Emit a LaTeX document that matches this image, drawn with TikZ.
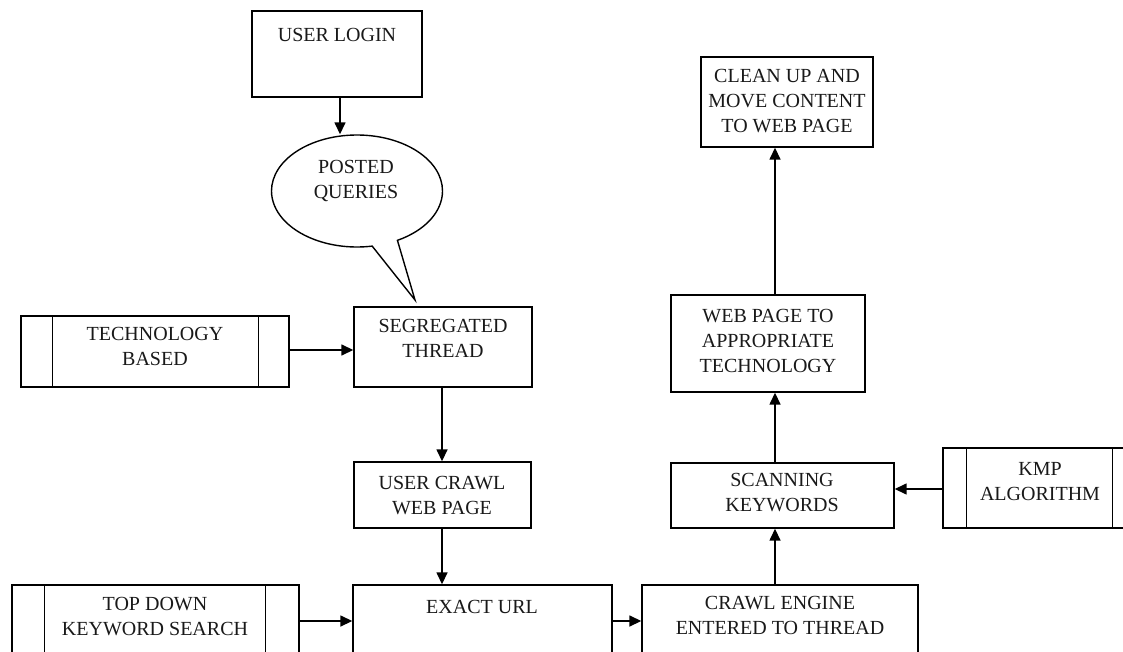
\documentclass[tikz,border=0pt]{standalone}
\usepackage{fontspec}
\setmainfont{Liberation Serif}
\usetikzlibrary{arrows.meta,shapes.callouts,calc}
\begin{document}
\begin{tikzpicture}[x=1pt,y=-1pt,
  box/.style={draw=black, line width=1.4pt, rectangle, inner sep=0pt},
  txt/.style={font=\fontsize{20}{25}\selectfont, align=center, text=black!90, inner sep=0pt},
  arr/.style={line width=1.5pt, -{Triangle[length=12pt,width=11pt]}},
  sub/.style={line width=1.4pt}]
\useasboundingbox (0,0) rectangle (1123,652);
\clip (0,0) rectangle (1123,652);
\fill[white] (0,0) rectangle (1123,652);
% boxes
\node[box, minimum width=170pt, minimum height=86pt] (login) at (337,54) {};
\node[box, minimum width=268pt, minimum height=71pt] (tech) at (155,351.5) {};
\node[box, minimum width=178pt, minimum height=80pt] (seg) at (443,347) {};
\node[box, minimum width=177pt, minimum height=66pt] (crawl) at (442.5,495) {};
\node[box, minimum width=259pt, minimum height=115pt] (url) at (482.5,642.5) {};
\node[box, minimum width=287pt, minimum height=115pt] (topdown) at (155.5,642.5) {};
\node[box, minimum width=276pt, minimum height=115pt] (engine) at (780,642.5) {};
\node[box, minimum width=223pt, minimum height=65pt] (scan) at (782.5,495.5) {};
\node[box, minimum width=192pt, minimum height=80pt] (kmp) at (1039,488) {};
\node[box, minimum width=194pt, minimum height=97pt] (web) at (768,343.5) {};
\node[box, minimum width=172pt, minimum height=90pt] (clean) at (787,102) {};
% predefined-process side bars
\draw[sub] ($(tech.north west)+(32,0)$) -- ($(tech.south west)+(32,0)$);
\draw[sub] ($(tech.north east)+(-31,0)$) -- ($(tech.south east)+(-31,0)$);
\draw[sub] ($(topdown.north west)+(33,0)$) -- ($(topdown.south west)+(33,0)$);
\draw[sub] ($(topdown.north east)+(-34,0)$) -- ($(topdown.south east)+(-34,0)$);
\draw[sub] ($(kmp.north west)+(24,0)$) -- ($(kmp.south west)+(24,0)$);
\draw[sub] ($(kmp.north east)+(-23,0)$) -- ($(kmp.south east)+(-23,0)$);
% callout
\coordinate (tip) at (415,300);
\node[ellipse callout, draw=black, line width=1.4pt, inner sep=0pt,
  minimum width=171pt, minimum height=112pt,
  callout absolute pointer={(tip)}, callout pointer arc=18] (q) at (357,191) {};
% texts
\node[txt] at (337,35) {USER LOGIN};
\node[txt] at (356,181) {POSTED\\QUERIES};
\node[txt] at (155,346) {TECHNOLOGY\\BASED};
\node[txt] at (443,338) {SEGREGATED\\THREAD};
\node[txt] at (442,496) {USER CRAWL\\WEB PAGE};
\node[txt] at (482,607) {EXACT URL};
\node[txt] at (155,617) {TOP DOWN\\KEYWORD SEARCH};
\node[txt] at (780,615) {CRAWL ENGINE\\ENTERED TO THREAD};
\node[txt] at (782,493) {SCANNING\\KEYWORDS};
\node[txt] at (1040,482) {KMP\\ALGORITHM};
\node[txt] at (768,341) {WEB PAGE TO\\APPROPRIATE\\TECHNOLOGY};
\node[txt] at (787,101) {CLEAN UP AND\\MOVE CONTENT\\TO WEB PAGE};
% connectors
\coordinate (col) at (775,0);
\coordinate (lcol) at (340,0);
\coordinate (mcol) at (442,0);
\draw[arr] (lcol |- login.south) -- (lcol |- q.north);
\draw[arr] (tech.east |- 0,350) -- (seg.west |- 0,350);
\draw[arr] (mcol |- seg.south) -- (mcol |- crawl.north);
\draw[arr] (mcol |- crawl.south) -- (mcol |- url.north);
\coordinate (yrow) at (0,621);
\draw[arr] (yrow -| topdown.east) -- (yrow -| url.west);
\draw[arr] (yrow -| url.east) -- (yrow -| engine.west);
\draw[arr] (col |- engine.north) -- (col |- scan.south);
\draw[arr] (kmp.west |- 0,489) -- (scan.east |- 0,489);
\draw[arr] (col |- scan.north) -- (col |- web.south);
\draw[arr] (col |- web.north) -- (col |- clean.south);
\end{tikzpicture}
\end{document}
